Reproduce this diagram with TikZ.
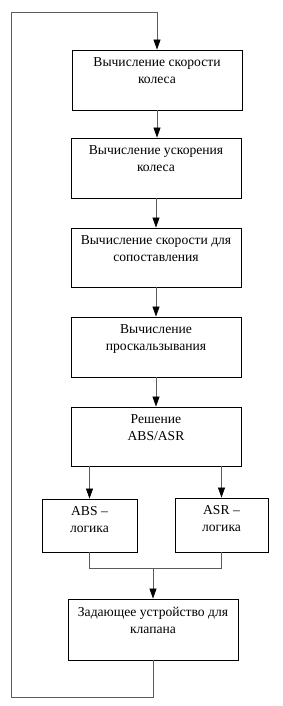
\documentclass[tikz,border=0pt]{standalone}
\usepackage{fontspec}
\setmainfont{Liberation Serif}
\usetikzlibrary{arrows.meta}
\definecolor{lnc}{RGB}{95,90,85}
\begin{document}
\begin{tikzpicture}[x=1pt,y=-1pt,
  box/.style={draw=black, line width=0.9pt, inner sep=0pt},
  txt/.style={anchor=north, align=center, inner sep=0pt, font=\fontsize{13.6}{17}\selectfont},
  conn/.style={draw=lnc, line width=0.7pt},
  arr/.style={conn, -{Triangle[length=10pt,width=7pt,color=black]}}]
\useasboundingbox (0,0) rectangle (282,706);
\node[box, minimum width=170pt, minimum height=60pt] (b1) at (157,80) {};
\node[box, minimum width=170pt, minimum height=60pt] (b2) at (156,168) {};
\node[box, minimum width=170pt, minimum height=59pt] (b3) at (156,257.5) {};
\node[box, minimum width=170pt, minimum height=60pt] (b4) at (156,347) {};
\node[box, minimum width=170pt, minimum height=59pt] (b5) at (156,436.5) {};
\node[box, minimum width=95pt, minimum height=53pt] (abs) at (89.5,525.5) {};
\node[box, minimum width=93pt, minimum height=54pt] (asr) at (221.5,525) {};
\node[box, minimum width=170pt, minimum height=61pt] (b7) at (153,629.5) {};
\node[txt] (t1) at ([yshift=-8pt]b1.north) {Вычисление скорости\\колеса};
\node[txt] (t2) at ([yshift=-8pt]b2.north) {Вычисление ускорения\\колеса};
\node[txt] (t3) at ([yshift=-8pt]b3.north) {Вычисление скорости для\\сопоставления};
\node[txt] (t4) at ([yshift=-8pt]b4.north) {Вычисление\\проскальзывания};
\node[txt] (t5) at ([yshift=-8pt]b5.north) {Решение\\ABS/ASR};
\node[txt] (t6) at ([yshift=-8pt]abs.north) {ABS –\\логика};
\node[txt] (t7) at ([yshift=-8pt]asr.north) {ASR –\\логика};
\node[txt] (t8) at ([yshift=-8pt]b7.north) {Задающее устройство для\\клапана};
\coordinate (m) at (b7.north |- 0,568);
\coordinate (lb) at (11,697);
\coordinate (lt) at (11,12);
\draw[arr] (b1.south) -- (b1.south |- b2.north);
\draw[arr] (b2.south) -- (b2.south |- b3.north);
\draw[arr] (b3.south) -- (b3.south |- b4.north);
\draw[arr] (b4.south) -- (b4.south |- b5.north);
\draw[arr] (abs.north |- b5.south) -- (abs.north);
\draw[arr] (asr.north |- b5.south) -- (asr.north);
\draw[conn] (abs.south) -- (abs.south |- m) -- (asr.south |- m) -- (asr.south);
\draw[arr] (m) -- (b7.north);
\draw[arr] (b7.south) -- (b7.south |- lb) -- (lb) -- (lt) -- (lt -| b1.north) -- (b1.north);
\end{tikzpicture}
\end{document}
